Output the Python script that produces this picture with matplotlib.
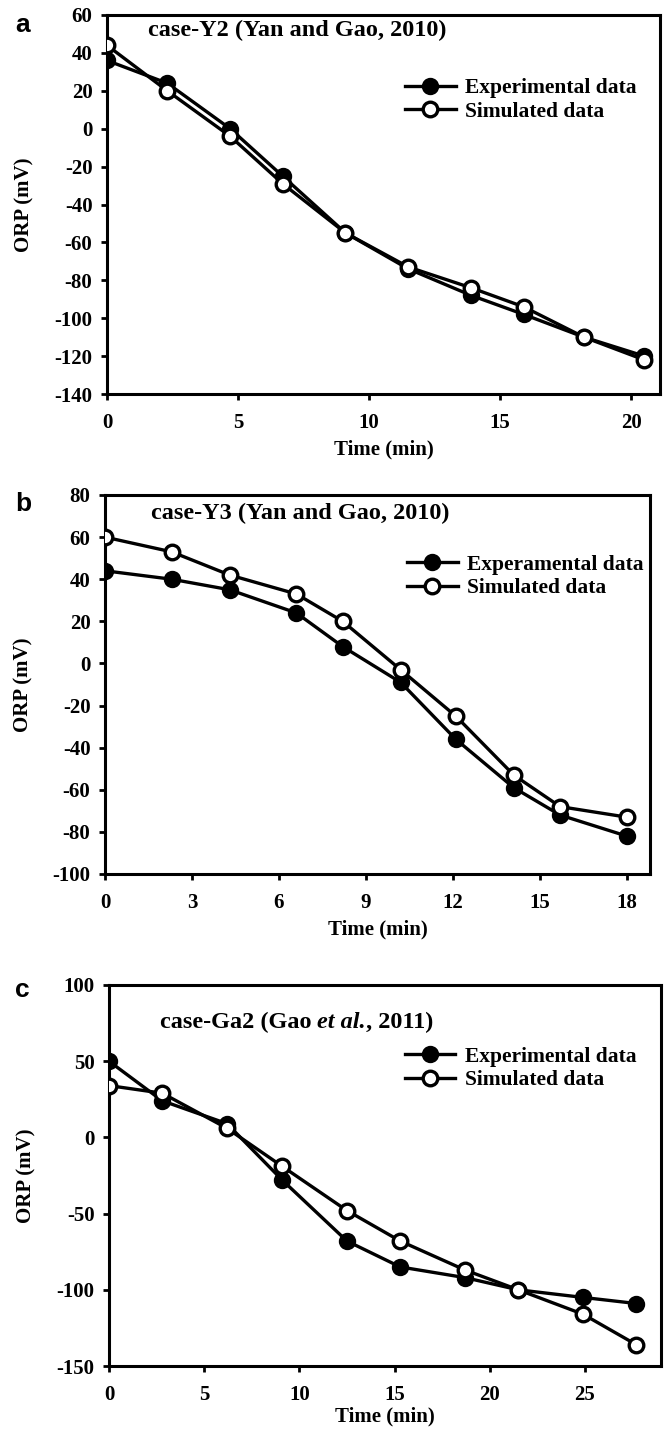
import matplotlib
matplotlib.use("Agg")
import matplotlib.pyplot as plt

plt.rcParams['font.family'] = ['Liberation Serif', 'DejaVu Serif']
plt.rcParams['font.weight'] = 'bold'
plt.rcParams['axes.unicode_minus'] = False

# Panel a: case-Y2
time_a = [0, 2.3, 4.7, 6.7, 9.1, 11.5, 13.9, 15.9, 18.2, 20.5]
exp_a = [36, 24, 0, -25, -55, -74, -88, -98, -110, -120]
sim_a = [44, 20, -4, -29, -55, -73, -84, -94, -110, -122]

# Panel b: case-Y3
time_b = [0, 2.3, 4.3, 6.6, 8.2, 10.2, 12.1, 14.1, 15.7, 18]
exp_b = [44, 40, 35, 24, 8, -9, -36, -59, -72, -82]
sim_b = [60, 53, 42, 33, 20, -3, -25, -53, -68, -73]

# Panel c: case-Ga2
time_c = [0, 2.8, 6.2, 9.1, 12.5, 15.3, 18.7, 21.5, 24.9, 27.7]
exp_c = [50, 24, 9, -28, -68, -85, -92, -100, -105, -109]
sim_c = [34, 29, 6, -19, -48, -68, -87, -100, -116, -136]

W, H = 665, 1429
fig = plt.figure(figsize=(W / 100, H / 100), dpi=100)

def px_axes(l, t, r, b):
    return fig.add_axes([l / W, 1 - b / H, (r - l) / W, (b - t) / H])

panels = [
    dict(box=(107, 15, 660, 394), t=time_a, e=exp_a, s=sim_a, xlim=(0, 21.1), xt=[0, 5, 10, 15, 20],
         ylim=(-140, 60), yt=list(range(-140, 61, 20)), letter='a', lbase=32, xlp=5,
         title='case-Y2 (Yan and Gao, 2010)', tpos=(0.074, 0.96), elabel='Experimental data',
         lpos=(0.539, 0.776)),
    dict(box=(105, 495, 650, 874), t=time_b, e=exp_b, s=sim_b, xlim=(0, 18.8), xt=[0, 3, 6, 9, 12, 15, 18],
         ylim=(-100, 80), yt=list(range(-100, 81, 20)), letter='b', lbase=511, xlp=5,
         title='case-Y3 (Yan and Gao, 2010)', tpos=(0.084, 0.952), elabel='Experamental data',
         lpos=(0.554, 0.785)),
    dict(box=(109, 985, 661, 1366), t=time_c, e=exp_c, s=sim_c, xlim=(0, 29), xt=[0, 5, 10, 15, 20, 25],
         ylim=(-150, 100), yt=[-150, -100, -50, 0, 50, 100], letter='c', lbase=997, xlp=1,
         title=None, tpos=(0.092, 0.903), elabel='Experimental data',
         lpos=(0.536, 0.781)),
]

TICK_FS = 15
LAB_FS = 15
TITLE_FS = 17.5
LEG_FS = 15.5

for p in panels:
    ax = px_axes(*p['box'])
    ax.plot(p['t'], p['e'], '-o', color='black', lw=2.4, ms=10.5, mfc='black', mec='black', mew=2.0,
            label=p['elabel'], zorder=3)
    ax.plot(p['t'], p['s'], '-o', color='black', lw=2.4, ms=10.5, mfc='white', mec='black', mew=2.4,
            label='Simulated data', zorder=4)
    ax.set_xlim(*p['xlim'])
    ax.set_ylim(*p['ylim'])
    ax.set_xticks(p['xt'])
    ax.set_yticks(p['yt'])
    for sp in ax.spines.values():
        sp.set_linewidth(2.2)
    ax.tick_params(direction='out', length=4.5, width=2.0, labelsize=TICK_FS)
    ax.tick_params(axis='x', pad=9)
    ax.tick_params(axis='y', pad=6)
    for lab in ax.get_xticklabels() + ax.get_yticklabels():
        lab.set_fontweight('bold')
    ax.set_xlabel('Time (min)', fontsize=LAB_FS, fontweight='bold', labelpad=p['xlp'])
    ax.set_ylabel('ORP (mV)', fontsize=LAB_FS, fontweight='bold')
    ax.yaxis.set_label_coords(-0.132, 0.5)
    if p['title']:
        ax.text(p['tpos'][0], p['tpos'][1], p['title'], transform=ax.transAxes, fontsize=TITLE_FS,
                fontweight='bold', va='center', ha='left')
    else:
        t1 = ax.text(p['tpos'][0], p['tpos'][1], 'case-Ga2 (Gao ', transform=ax.transAxes, fontsize=TITLE_FS,
                     fontweight='bold', va='center', ha='left')
        t2 = ax.annotate('et al.', xy=(1, 0), xycoords=t1, va='bottom', ha='left', fontsize=TITLE_FS,
                         fontweight='bold', fontstyle='italic')
        ax.annotate(', 2011)', xy=(1, 0), xycoords=t2, va='bottom', ha='left', fontsize=TITLE_FS,
                    fontweight='bold')
    leg = ax.legend(loc='center left', bbox_to_anchor=p['lpos'], frameon=False, fontsize=LEG_FS,
                    handlelength=2.35, handletextpad=0.45, labelspacing=0.15, borderaxespad=0,
                    borderpad=0)
    for txt in leg.get_texts():
        txt.set_fontweight('bold')
    fig.text(15 / W, 1 - p['lbase'] / H, p['letter'], fontsize=19, fontweight='bold',
             family=['Liberation Sans', 'DejaVu Sans'], va='baseline', ha='left')

fig.savefig('out.png', dpi=100)
